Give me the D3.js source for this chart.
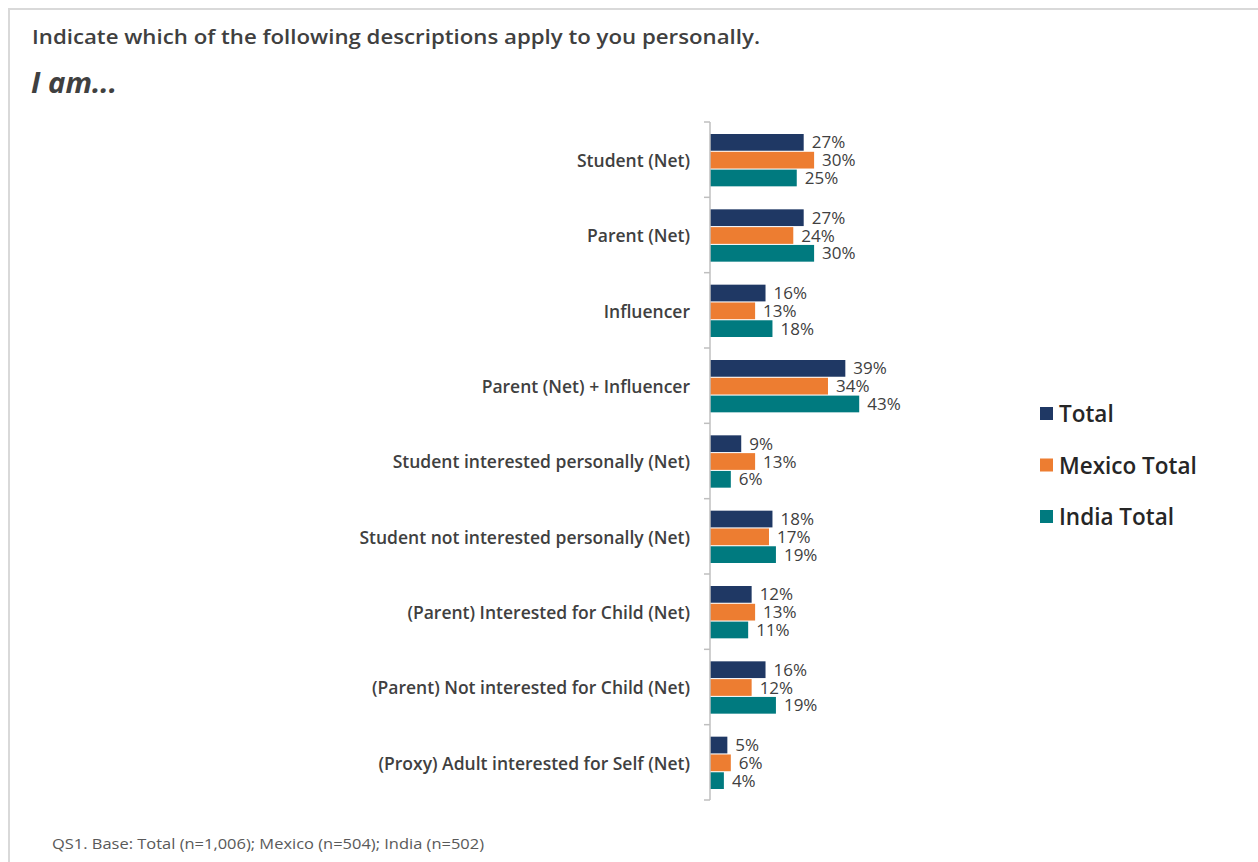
<!DOCTYPE html>
<html>
<head>
<meta charset="utf-8">
<script src="https://cdn.jsdelivr.net/npm/d3@7"></script>
<style>
  body { margin: 0; background: #fff; }
  svg { display: block; }
</style>
</head>
<body>
<svg id="chart" width="1258" height="862"></svg>
<script>
const categories = [
    "Student (Net)",
    "Parent (Net)",
    "Influencer",
    "Parent (Net) + Influencer",
    "Student interested personally (Net)",
    "Student not interested personally (Net)",
    "(Parent) Interested for Child (Net)",
    "(Parent) Not interested for Child (Net)",
    "(Proxy) Adult interested for Self (Net)"
];
const seriesNames = ["Total", "Mexico Total", "India Total"];
const totalValues  = [27, 27, 16, 39, 9, 18, 12, 16, 5];
const mexicoValues = [30, 24, 13, 34, 13, 17, 13, 12, 6];
const indiaValues  = [25, 30, 18, 43, 6, 19, 11, 19, 4];
const seriesColors = ["#1F3864", "#ED7D31", "#007A7F"];

const values = [totalValues, mexicoValues, indiaValues];
const data = categories.map((c, i) => ({
    cat: c,
    vals: seriesNames.map((s, j) => ({ key: s, value: values[j][i], color: seriesColors[j] }))
}));

const svg = d3.select("#chart");
const font = "'Open Sans', 'DejaVu Sans', sans-serif";
const textColor = "#404040";

// outer frame (only top & left visible)
svg.append("rect")
    .attr("x", 9).attr("y", 9)
    .attr("width", 1300).attr("height", 900)
    .attr("fill", "none")
    .attr("stroke", "#D9D9D9")
    .attr("stroke-width", 2);

// titles
svg.append("text")
    .attr("x", 32).attr("y", 44)
    .attr("font-family", font)
    .attr("font-weight", 600)
    .attr("font-size", 19.5)
    .attr("fill", textColor)
    .attr("textLength", 728)
    .attr("lengthAdjust", "spacingAndGlyphs")
    .text("Indicate which of the following descriptions apply to you personally.");

svg.append("text")
    .attr("x", 31).attr("y", 93)
    .attr("font-family", font)
    .attr("font-weight", 700)
    .attr("font-style", "italic")
    .attr("font-size", 28)
    .attr("fill", textColor)
    .attr("textLength", 86)
    .attr("lengthAdjust", "spacingAndGlyphs")
    .text("I am...");

// scales
const x = d3.scaleLinear().domain([0, 10]).range([710, 710 + 34.7]);
const y0 = d3.scaleBand().domain(categories).range([122, 800]);
const y1 = d3.scaleBand().domain(seriesNames)
    .range([12, y0.bandwidth() - 11])
    .paddingInner(0.06);

// bars
const groups = svg.append("g").selectAll("g")
    .data(data)
    .join("g")
    .attr("transform", d => `translate(0,${y0(d.cat)})`);

groups.selectAll("rect")
    .data(d => d.vals)
    .join("rect")
    .attr("x", x(0))
    .attr("y", d => y1(d.key))
    .attr("width", d => x(d.value) - x(0))
    .attr("height", y1.bandwidth())
    .attr("fill", d => d.color);

groups.selectAll("text.val")
    .data(d => d.vals)
    .join("text")
    .attr("class", "val")
    .attr("x", d => x(d.value) + 8)
    .attr("y", d => y1(d.key) + y1.bandwidth() / 2)
    .attr("dy", "0.36em")
    .attr("font-family", font)
    .attr("font-size", 17)
    .attr("fill", textColor)
    .text(d => d.value + "%");

// axis: vertical line with ticks at band edges
const axisG = svg.append("g");
axisG.append("line")
    .attr("x1", x(0)).attr("x2", x(0))
    .attr("y1", 122).attr("y2", 800)
    .attr("stroke", "#BFBFBF").attr("stroke-width", 1.5);
const edges = categories.map(c => y0(c)).concat([y0.range()[1]]);
axisG.selectAll("line.tick")
    .data(edges)
    .join("line")
    .attr("class", "tick")
    .attr("x1", x(0) - 6).attr("x2", x(0))
    .attr("y1", d => d).attr("y2", d => d)
    .attr("stroke", "#BFBFBF").attr("stroke-width", 1.5);

// category labels
svg.append("g").selectAll("text")
    .data(categories)
    .join("text")
    .attr("x", 690)
    .attr("y", d => y0(d) + y0.bandwidth() / 2 + 1)
    .attr("dy", "0.36em")
    .attr("text-anchor", "end")
    .attr("font-family", font)
    .attr("font-weight", 600)
    .attr("font-size", 17.5)
    .attr("fill", textColor)
    .text(d => d);

// legend
const legend = svg.append("g").attr("transform", "translate(1040,414)");
const lg = legend.selectAll("g")
    .data(seriesNames)
    .join("g")
    .attr("transform", (d, i) => `translate(0,${i * 51.5})`);
lg.append("rect")
    .attr("x", 0).attr("y", -7)
    .attr("width", 13).attr("height", 13)
    .attr("fill", (d, i) => seriesColors[i]);
lg.append("text")
    .attr("x", 19).attr("y", 0)
    .attr("dy", "0.36em")
    .attr("font-family", font)
    .attr("font-weight", 600)
    .attr("font-size", 22.5)
    .attr("fill", "#262626")
    .text(d => d);

// footnote
svg.append("text")
    .attr("x", 52).attr("y", 849)
    .attr("font-family", font)
    .attr("font-size", 14)
    .attr("fill", "#595959")
    .attr("textLength", 432)
    .attr("lengthAdjust", "spacingAndGlyphs")
    .text("QS1. Base: Total (n=1,006); Mexico (n=504); India (n=502)");
</script>
</body>
</html>
